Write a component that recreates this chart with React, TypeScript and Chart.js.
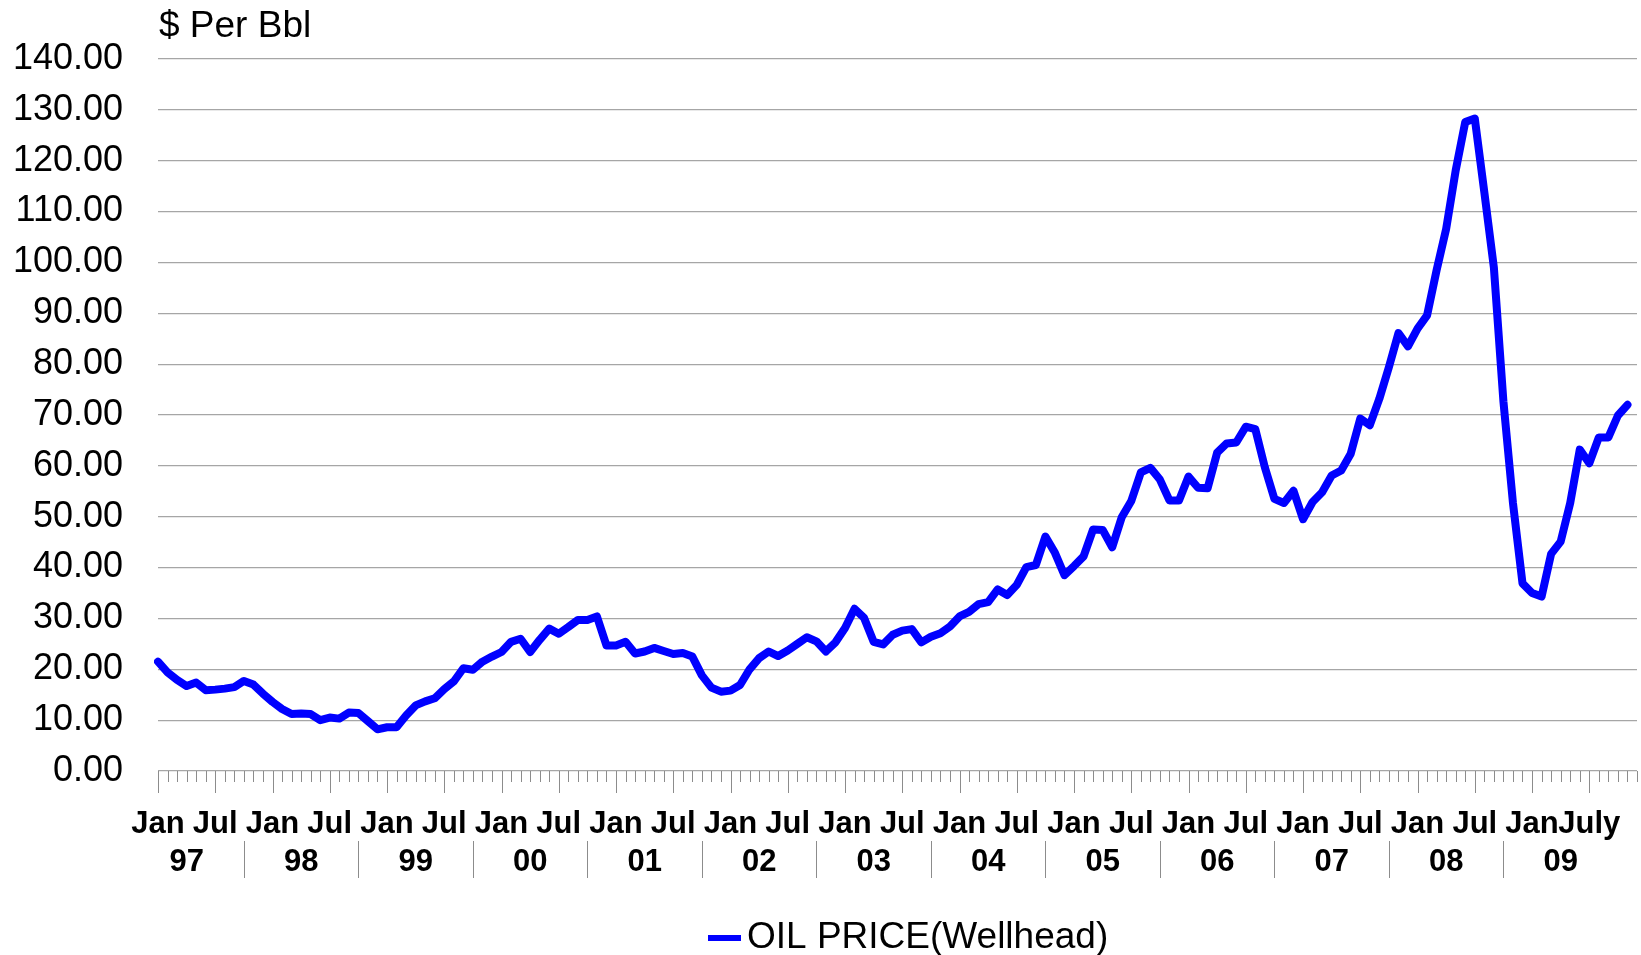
import React, { useEffect, useRef } from 'react';
import { Chart, registerables } from 'chart.js';

Chart.register(...registerables);

const FONT = '"Liberation Sans", Arial, Helvetica, sans-serif';

// ---- data ----
const years = ['97', '98', '99', '00', '01', '02', '03', '04', '05', '06', '07', '08', '09'];
const monthNames = ['Jan', 'Feb', 'Mar', 'Apr', 'May', 'Jun', 'Jul', 'Aug', 'Sep', 'Oct', 'Nov', 'Dec'];
const halfYearTickLabels = [
  'Jan', 'Jul', 'Jan', 'Jul', 'Jan', 'Jul', 'Jan', 'Jul', 'Jan', 'Jul', 'Jan', 'Jul', 'Jan',
  'Jul', 'Jan', 'Jul', 'Jan', 'Jul', 'Jan', 'Jul', 'Jan', 'Jul', 'Jan', 'Jul', 'Jan', 'July',
];
const price1997 = [21.5, 19.4, 17.9, 16.7, 17.4, 15.9, 16.0, 16.2, 16.5, 17.7, 17.0, 15.2];
const price1998 = [13.6, 12.2, 11.2, 11.3, 11.2, 10.0, 10.5, 10.3, 11.5, 11.4, 9.8, 8.2];
const price1999 = [8.6, 8.6, 10.9, 12.9, 13.7, 14.3, 16.1, 17.6, 20.2, 19.9, 21.5, 22.5];
const price2000 = [23.4, 25.4, 26.0, 23.4, 25.8, 28.0, 27.0, 28.3, 29.7, 29.7, 30.4, 24.7];
const price2001 = [24.7, 25.4, 23.1, 23.5, 24.2, 23.6, 23.0, 23.2, 22.5, 18.8, 16.4, 15.6];
const price2002 = [15.8, 16.9, 20.0, 22.2, 23.5, 22.6, 23.7, 25.0, 26.3, 25.5, 23.5, 25.3];
const price2003 = [28.1, 31.9, 30.1, 25.4, 24.9, 26.8, 27.6, 27.9, 25.3, 26.4, 27.1, 28.4];
const price2004 = [30.4, 31.3, 32.8, 33.2, 35.7, 34.6, 36.6, 40.1, 40.5, 46.1, 42.9, 38.5];
const price2005 = [40.3, 42.2, 47.5, 47.4, 44.0, 49.9, 53.1, 58.7, 59.6, 57.3, 53.2, 53.2];
const price2006 = [57.9, 55.7, 55.6, 62.6, 64.4, 64.6, 67.7, 67.2, 59.7, 53.5, 52.7, 55.1];
const price2007 = [49.5, 52.9, 54.8, 58.1, 59.1, 62.4, 69.3, 68.0, 73.2, 79.4, 86.1, 83.5];
const price2008 = [87.0, 89.6, 98.5, 106.6, 118.1, 127.6, 128.3, 113.8, 99.0, 72.7, 52.7, 36.9];
const price2009 = [35.0, 34.3, 42.7, 45.1, 52.7, 63.2, 60.5, 65.6, 65.6, 69.9, 72.0];

const seriesLabel = 'OIL PRICE(Wellhead)';
const axisTitle = '$ Per Bbl';
const yMin = 0;
const yMax = 140;
const yStep = 10;

const categories = years.flatMap((y) => monthNames.map((m) => `${m} ${y}`));
const prices = [
  ...price1997, ...price1998, ...price1999, ...price2000, ...price2001,
  ...price2002, ...price2003, ...price2004, ...price2005, ...price2006, ...price2007,
  ...price2008, ...price2009,
];

const BLUE = '#0000ff';
const GRID = '#a6a6a6';
const TICK = '#8c8c8c';

const decorPlugin = {
  id: 'decor',
  afterDraw(chart: any) {
    const ctx = chart.ctx as CanvasRenderingContext2D;
    const xs = chart.scales.x;
    const ys = chart.scales.y;
    const base = ys.getPixelForValue(0);
    ctx.save();

    // month tick marks
    ctx.strokeStyle = TICK;
    ctx.lineWidth = 1;
    for (let i = 0; i < categories.length; i++) {
      const px = Math.round(xs.getPixelForValue(i)) + 0.5;
      const len = i % 6 === 0 ? 22 : 11;
      ctx.beginPath();
      ctx.moveTo(px, base);
      ctx.lineTo(px, base + len);
      ctx.stroke();
    }

    // month labels (Jan / Jul)
    ctx.fillStyle = '#000';
    ctx.font = `bold 31px ${FONT}`;
    ctx.textAlign = 'center';
    ctx.textBaseline = 'middle';
    halfYearTickLabels.forEach((t, k) => {
      ctx.fillText(t, xs.getPixelForValue(k * 6), 824);
    });

    // year labels
    years.forEach((yr, k) => {
      ctx.fillText(yr, xs.getPixelForValue(k * 12 + 3), 862);
    });

    // year separators
    ctx.strokeStyle = TICK;
    for (let k = 0; k < years.length - 1; k++) {
      const px = Math.round(xs.getPixelForValue(k * 12 + 9)) + 0.5;
      ctx.beginPath();
      ctx.moveTo(px, 841);
      ctx.lineTo(px, 878);
      ctx.stroke();
    }

    // axis title
    ctx.font = `37px ${FONT}`;
    ctx.textAlign = 'left';
    ctx.textBaseline = 'middle';
    ctx.fillText(axisTitle, 159, 27);

    // legend
    ctx.strokeStyle = BLUE;
    ctx.lineWidth = 6;
    ctx.beginPath();
    ctx.moveTo(708, 938);
    ctx.lineTo(741, 938);
    ctx.stroke();
    ctx.fillStyle = '#000';
    ctx.fillText(seriesLabel, 747, 938);

    ctx.restore();
  },
};

export default function App() {
  const ref = useRef<HTMLCanvasElement | null>(null);

  useEffect(() => {
    if (!ref.current) return;
    const chart = new Chart(ref.current, {
      type: 'line',
      data: {
        labels: categories,
        datasets: [
          {
            label: seriesLabel,
            data: prices,
            borderColor: BLUE,
            backgroundColor: BLUE,
            borderWidth: 8,
            pointRadius: 0,
            tension: 0,
            borderJoinStyle: 'round',
            borderCapStyle: 'round',
            fill: false,
          },
        ],
      },
      options: {
        responsive: false,
        animation: false,
        devicePixelRatio: 1,
        layout: { padding: { top: 59, right: 4, bottom: 0, left: 0 } },
        plugins: {
          legend: { display: false },
          title: { display: false },
          tooltip: { enabled: false },
        },
        scales: {
          x: {
            type: 'category',
            offset: false,
            grid: { display: false },
            border: { display: false },
            ticks: { display: false },
            afterFit: (s: any) => {
              s.height = 955 - 771;
            },
          },
          y: {
            min: yMin,
            max: yMax,
            grid: { color: GRID, lineWidth: 1.2, drawTicks: false },
            border: { display: false },
            ticks: {
              stepSize: yStep,
              padding: 35,
              color: '#000',
              font: { family: FONT, size: 36 },
              callback: (v: any) => Number(v).toFixed(2),
            },
            afterFit: (s: any) => {
              s.width = 158;
            },
          },
        },
      },
      plugins: [decorPlugin],
    });
    return () => chart.destroy();
  }, []);

  return (
    <div style={{ position: 'fixed', left: 0, top: 0, width: 1641, height: 955, background: '#fff' }}>
      <canvas ref={ref} width={1641} height={955} style={{ display: 'block' }} />
    </div>
  );
}
